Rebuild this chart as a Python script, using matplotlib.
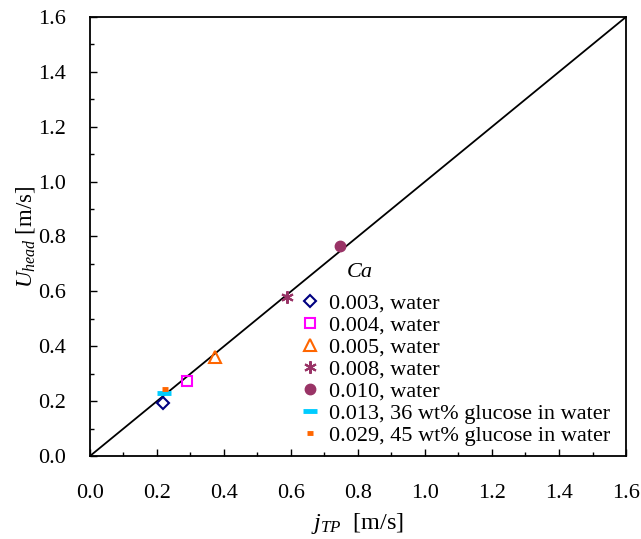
import matplotlib
matplotlib.use("Agg")
import matplotlib.pyplot as plt

plt.rcParams['font.family'] = ['Liberation Serif', 'DejaVu Serif']
plt.rcParams['mathtext.fontset'] = 'custom'
plt.rcParams['mathtext.rm'] = 'Liberation Serif'
plt.rcParams['mathtext.it'] = 'Liberation Serif:italic'

# Data: superficial two-phase velocity vs. bubble head velocity
labels = ["0.003, water", "0.004, water", "0.005, water", "0.008, water",
          "0.010, water", "0.013, 36 wt% glucose in water",
          "0.029, 45 wt% glucose in water"]
j_tp = [0.218, 0.290, 0.373, 0.588, 0.746, 0.221, 0.224]
u_head = [0.193, 0.273, 0.361, 0.579, 0.765, 0.229, 0.244]

styles = [
    dict(marker='D', ms=6, mfc='none', mec='#000080', mew=1.5),
    dict(marker='s', ms=7, mfc='none', mec='#FF00FF', mew=1.5),
    dict(marker='^', ms=8, mfc='none', mec='#FF6600', mew=1.5),
    dict(marker=(6, 2, 0), ms=9, mfc='none', mec='#993366', mew=1.5),
    dict(marker='o', ms=7.5, mfc='#993366', mec='#993366', mew=1),
    dict(marker='_', ms=10, mfc='none', mec='#00CCFF', mew=3.5),
    dict(marker='_', ms=5, mfc='none', mec='#FF6600', mew=3.5),
]

fig = plt.figure(figsize=(6.41, 5.39), dpi=100)
ax = fig.add_axes([0.1404, 0.154, 0.8362, 0.8145])

ax.plot([0, 1.6], [0, 1.6], color='black', lw=1.3, zorder=1)
for x, y, lab, st in zip(j_tp, u_head, labels, styles):
    ax.plot([x], [y], ls='none', label=lab, zorder=3, **st)

ax.set_xlim(0, 1.6)
ax.set_ylim(0, 1.6)
ticks = [0.0, 0.2, 0.4, 0.6, 0.8, 1.0, 1.2, 1.4, 1.6]
ax.set_xticks(ticks)
ax.set_yticks(ticks)
ax.set_xticklabels([f"{t:.1f}" for t in ticks])
ax.set_yticklabels([f"{t:.1f}" for t in ticks])
ax.set_xticks([0.1 + 0.2 * i for i in range(8)], minor=True)
ax.set_yticks([0.1 + 0.2 * i for i in range(8)], minor=True)
ax.tick_params(which='both', direction='in', labelsize=16, width=1)
ax.tick_params(which='major', length=5)
ax.tick_params(which='minor', length=3)
ax.tick_params(axis='x', which='major', pad=20)
ax.tick_params(axis='y', which='major', pad=17)
for s in ax.spines.values():
    s.set_linewidth(1.3)

ax.set_xlabel(r'$j_{TP}$  [m/s]', fontsize=17.5, labelpad=6)
ax.set_ylabel(r'$U_{head}$ [m/s]', fontsize=16.5, labelpad=1)

ax.text(0.806, 0.668, 'Ca', fontsize=16, fontstyle='italic',
        ha='center', va='center')

ax.legend(loc='upper left', bbox_to_anchor=(0.63, 0.595),
          bbox_transform=ax.transData, frameon=False, fontsize=16,
          handletextpad=0.45, labelspacing=0.07, handlelength=0.8,
          borderaxespad=0, borderpad=0)

fig.savefig('out.png', dpi=100)
